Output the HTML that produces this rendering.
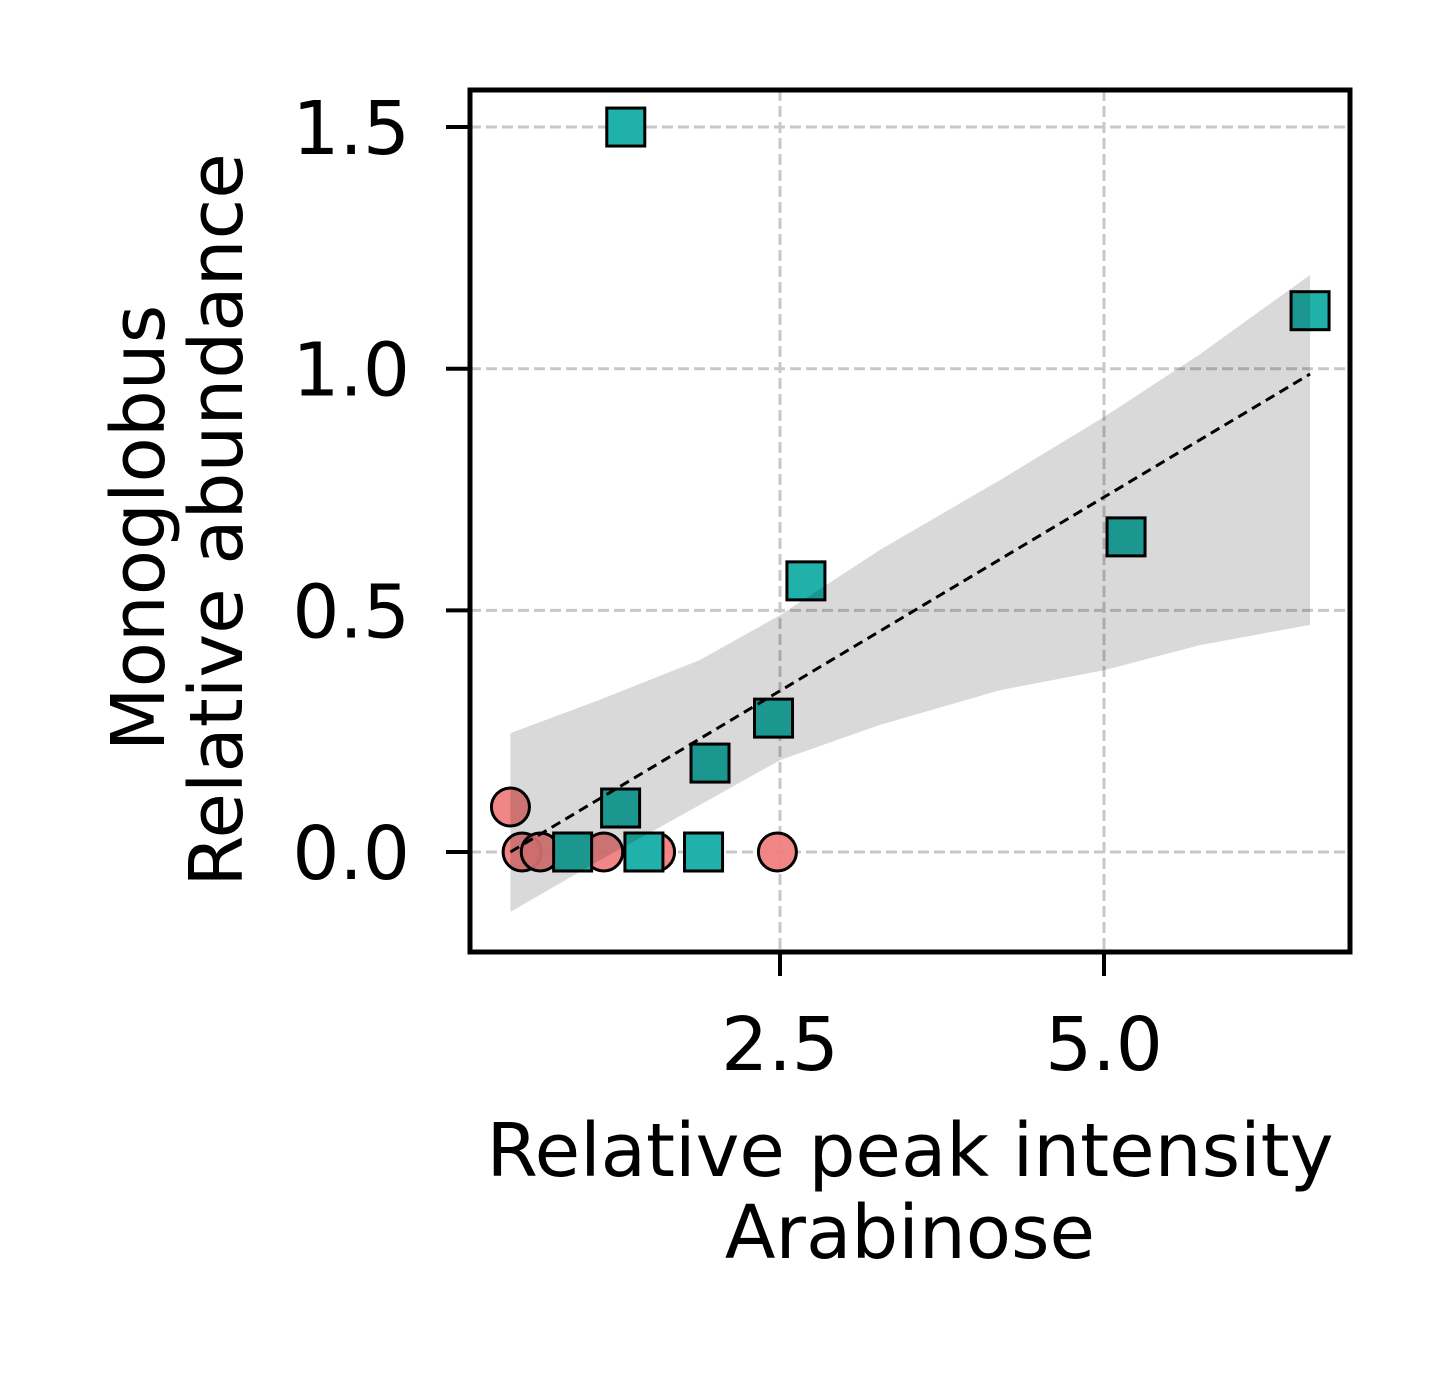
<!DOCTYPE html>
<html><head><meta charset="utf-8"><style>
html,body{margin:0;padding:0;background:#fff;}
svg{display:block;font-family:"DejaVu Sans","Liberation Sans",sans-serif;}
</style></head><body>
<svg id="chart" width="1440" height="1380" xmlns="http://www.w3.org/2000/svg">
<rect x="0" y="0" width="1440" height="1380" fill="#fff"/>
<g id="grid"></g>
<g id="marks"></g>
<g id="band"></g>
<g id="fit"></g>
<rect x="470" y="90" width="880" height="862" fill="none" stroke="#000" stroke-width="5"/>
<g id="axes"></g>
<g font-size="74" fill="#000">
<text transform="translate(164,528) rotate(-90)" text-anchor="middle">Monoglobus</text>
<text transform="translate(242,520) rotate(-90)" text-anchor="middle">Relative abundance</text>
</g>
<g font-size="74" fill="#000">
<text x="910" y="1176" text-anchor="middle">Relative peak intensity</text>
<text x="910" y="1258" text-anchor="middle">Arabinose</text>
</g>
</svg>
<script>
const xTicks=[2.5,5.0];
const xTickLabels=["2.5","5.0"];
const yTicks=[0,0.5,1.0,1.5];
const yTickLabels=["0.0","0.5","1.0","1.5"];
const circleX=[0.42,0.51,0.65,1.14,1.54,2.48];
const circleY=[0.093,0,0,0,0,0];
const squareX=[0.90,1.27,1.96,2.45,5.17,1.31,1.45,1.91,2.70,6.59];
const squareY=[0,0.091,0.184,0.277,0.652,1.50,0,0,0.561,1.12];
const fitX=[0.42,6.59];
const fitY=[0,0.989];
const bandX=[0.42,1.11,1.88,2.50,3.27,4.20,5.00,5.74,6.59];
const bandUpper=[0.246,0.315,0.397,0.490,0.625,0.770,0.900,1.030,1.194];
const bandLower=[-0.124,-0.017,0.097,0.190,0.263,0.335,0.376,0.428,0.470];
const NS="http://www.w3.org/2000/svg";
const X=v=>456+v*129.6;
const Y=v=>852-v*483.3;
function mk(tag,attrs,parent){const e=document.createElementNS(NS,tag);for(const k in attrs)e.setAttribute(k,attrs[k]);parent.appendChild(e);return e;}
const grid=document.getElementById('grid'),axes=document.getElementById('axes');
xTicks.forEach((t,i)=>{
 const g=mk('line',{x1:X(t),x2:X(t),y1:90,y2:952,stroke:'#c8c8c8','stroke-width':3,'stroke-dasharray':'11 5'},grid);
 
 
 const tk=mk('line',{x1:X(t),x2:X(t),y1:952,y2:976,stroke:'#000','stroke-width':4},axes);
 
 
 const tx=mk('text',{x:X(t),y:1070,'text-anchor':'middle','font-size':74},axes);
 tx.textContent=xTickLabels[i];
 
 
});
yTicks.forEach((t,i)=>{
 const g=mk('line',{x1:470,x2:1350,y1:Y(t),y2:Y(t),stroke:'#c8c8c8','stroke-width':3,'stroke-dasharray':'11 5'},grid);
 
 
 const tk=mk('line',{x1:446,x2:470,y1:Y(t),y2:Y(t),stroke:'#000','stroke-width':4},axes);
 
 
 const tx=mk('text',{x:410,y:Y(t)+27,'text-anchor':'end','font-size':74},axes);
 tx.textContent=yTickLabels[i];
 
 
});
const marks=document.getElementById('marks');
circleX.forEach((v,i)=>{
 const c=mk('circle',{cx:X(v),cy:Y(circleY[i]),r:19,fill:'#f08080','fill-opacity':0.95,stroke:'#000','stroke-width':3},marks);
 
 
});
squareX.forEach((v,i)=>{
 const s=mk('rect',{x:X(v)-19,y:Y(squareY[i])-19,width:38,height:38,fill:'#20b2aa',stroke:'#000','stroke-width':3},marks);
 
 
});
let d='M'+bandX.map((v,i)=>X(v)+','+Y(bandUpper[i])).join(' L');
for(let i=bandX.length-1;i>=0;i--)d+=' L'+X(bandX[i])+','+Y(bandLower[i]);
d+=' Z';
const b=mk('path',{d:d,fill:'rgba(0,0,0,0.15)'},document.getElementById('band'));


const f=mk('line',{x1:X(fitX[0]),y1:Y(fitY[0]),x2:X(fitX[1]),y2:Y(fitY[1]),stroke:'#000','stroke-width':3,'stroke-dasharray':'10 6'},document.getElementById('fit'));


</script>
</body></html>
